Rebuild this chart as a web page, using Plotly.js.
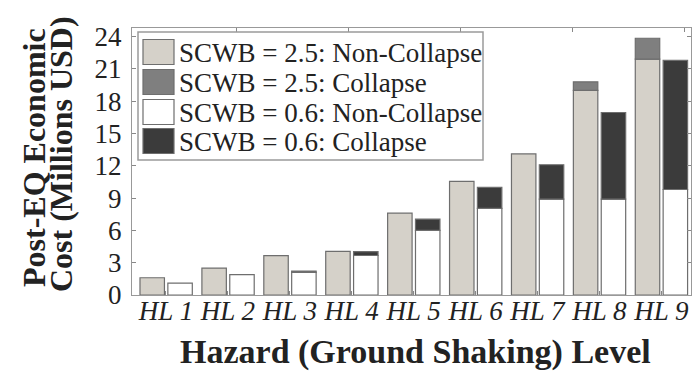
<!DOCTYPE html>
<html>
<head>
<meta charset="utf-8">
<script src="https://cdn.plot.ly/plotly-3.0.1.min.js"></script>
<style>html,body{margin:0;padding:0;background:#fff;}#chart{width:693px;height:377px;}</style>
</head>
<body>
<div id="chart"></div>
<script>
// ---- data ----
const categories = ['HL 1','HL 2','HL 3','HL 4','HL 5','HL 6','HL 7','HL 8','HL 9'];
const scwb25NonCollapse = [1.6, 2.5, 3.65, 4.05, 7.6, 10.55, 13.1, 19.0, 21.9];
const scwb25Collapse    = [0, 0, 0, 0, 0, 0, 0, 0.8, 1.95];
const scwb06NonCollapse = [1.1, 1.9, 2.1, 3.67, 6.0, 8.05, 8.9, 8.9, 9.8];
const scwb06Collapse    = [0, 0, 0.12, 0.35, 1.05, 1.95, 3.2, 8.05, 12.0];
const seriesNames = ['SCWB = 2.5: Non-Collapse','SCWB = 2.5: Collapse','SCWB = 0.6: Non-Collapse','SCWB = 0.6: Collapse'];
const yTicks = [0,3,6,9,12,15,18,21,24];

// ---- styling ----
const colors = ['#d5d1c9', '#7f7f7f', '#ffffff', '#3b3b3b'];
const edge = '#6e6e6e';
const serif = 'Liberation Serif, Times New Roman, serif';
const xs = categories.map((c,i)=>i+1);
const nz = a => a.map(v => v > 0 ? v : null);

const W = 693, H = 377, mL = 132, mR = 2, mT = 28, mB = 82;
const pw = W - mL - mR, ph = H - mT - mB;
const px = p => (p - mL) / pw;       // pixel -> paper x
const py = p => (H - mB - p) / ph;   // pixel -> paper y

const barCommon = {type:'bar', x: xs, width: 0.395, showlegend:false, hoverinfo:'y'};

const traces = [
  Object.assign({}, barCommon, {name:seriesNames[0], y: scwb25NonCollapse, offset:-0.42,
    marker:{color:colors[0], line:{color:edge,width:1.2}}}),
  Object.assign({}, barCommon, {name:seriesNames[1], y: nz(scwb25Collapse), base: scwb25NonCollapse, offset:-0.42,
    marker:{color:colors[1], line:{color:edge,width:1.2}}}),
  Object.assign({}, barCommon, {name:seriesNames[2], y: scwb06NonCollapse, offset:0.03,
    marker:{color:colors[2], line:{color:edge,width:1.2}}}),
  Object.assign({}, barCommon, {name:seriesNames[3], y: nz(scwb06Collapse), base: scwb06NonCollapse, offset:0.03,
    marker:{color:colors[3], line:{color:edge,width:1.2}}}),
  {type:'scatter', x:[1], y:[0], xaxis:'x2', mode:'markers', marker:{opacity:0}, showlegend:false, hoverinfo:'skip'}
];

// custom legend (large swatches like the original)
const shapes = [];
const annotations = [];
const legL = 138, legR = 483, legT = 32, legB = 160;
shapes.push({type:'rect', xref:'paper', yref:'paper', x0:px(legL), x1:px(legR), y0:py(legB), y1:py(legT),
  line:{color:'#9a9a9a', width:1.5}, fillcolor:'#ffffff', layer:'above'});
const rowY = [52, 82, 112, 141];
seriesNames.forEach((n,i)=>{
  shapes.push({type:'rect', xref:'paper', yref:'paper', x0:px(143), x1:px(174), y0:py(rowY[i]+12.5), y1:py(rowY[i]-12.5),
    line:{color:edge, width:1.2}, fillcolor:colors[i], layer:'above'});
  annotations.push({xref:'paper', yref:'paper', x:px(177), y:py(rowY[i]+1), xanchor:'left', yanchor:'middle',
    text:n, showarrow:false, font:{family:serif, size:27, color:'#222'}});
});

// axis titles
annotations.push({xref:'paper', yref:'paper', x:px(34), y:py(158), xanchor:'center', yanchor:'middle', textangle:-90,
  text:'Post-EQ Economic', showarrow:false, font:{family:serif, size:32, weight:'bold', color:'#222'}});
annotations.push({xref:'paper', yref:'paper', x:px(61), y:py(154), xanchor:'center', yanchor:'middle', textangle:-90,
  text:'Cost (Millions USD)', showarrow:false, font:{family:serif, size:32, weight:'bold', color:'#222'}});
annotations.push({xref:'paper', yref:'paper', x:px(415), y:py(352), xanchor:'center', yanchor:'middle',
  text:'Hazard (Ground Shaking) Level', showarrow:false, font:{family:serif, size:34, weight:'bold', color:'#222'}});

const layout = {
  width: W, height: H,
  margin:{l:mL, r:mR, t:mT, b:mB, pad:0},
  paper_bgcolor:'#fff', plot_bgcolor:'#fff',
  barmode:'overlay',
  showlegend:false,
  xaxis:{range:[0.451, 9.48], tickmode:'array', tickvals: xs, ticktext: categories,
    tickfont:{family:serif, size:27, style:'italic', color:'#222'}, ticklabelstandoff:-9,
    ticks:'inside', ticklen:4, tickcolor:'#888', showline:true, linecolor:'#999', linewidth:1.2,
    showgrid:false, zeroline:false, mirror:false, fixedrange:true},
  xaxis2:{overlaying:'x', side:'top', range:[0.0625, 5.054], tickvals:[1,2,3,4,5], showticklabels:false,
    ticks:'inside', ticklen:4, tickcolor:'#888', showline:true, linecolor:'#999', linewidth:1.2,
    showgrid:false, zeroline:false},
  yaxis:{range:[0, 24.8], tickmode:'array', tickvals:yTicks,
    tickfont:{family:serif, size:27, color:'#222'}, ticklabelstandoff:4,
    ticks:'inside', ticklen:4, tickcolor:'#888', showline:true, linecolor:'#999', linewidth:1.2,
    mirror:'ticks', showgrid:false, zeroline:false},
  shapes: shapes,
  annotations: annotations
};

Plotly.newPlot('chart', traces, layout, {displayModeBar:false, staticPlot:true});
</script>
</body>
</html>
